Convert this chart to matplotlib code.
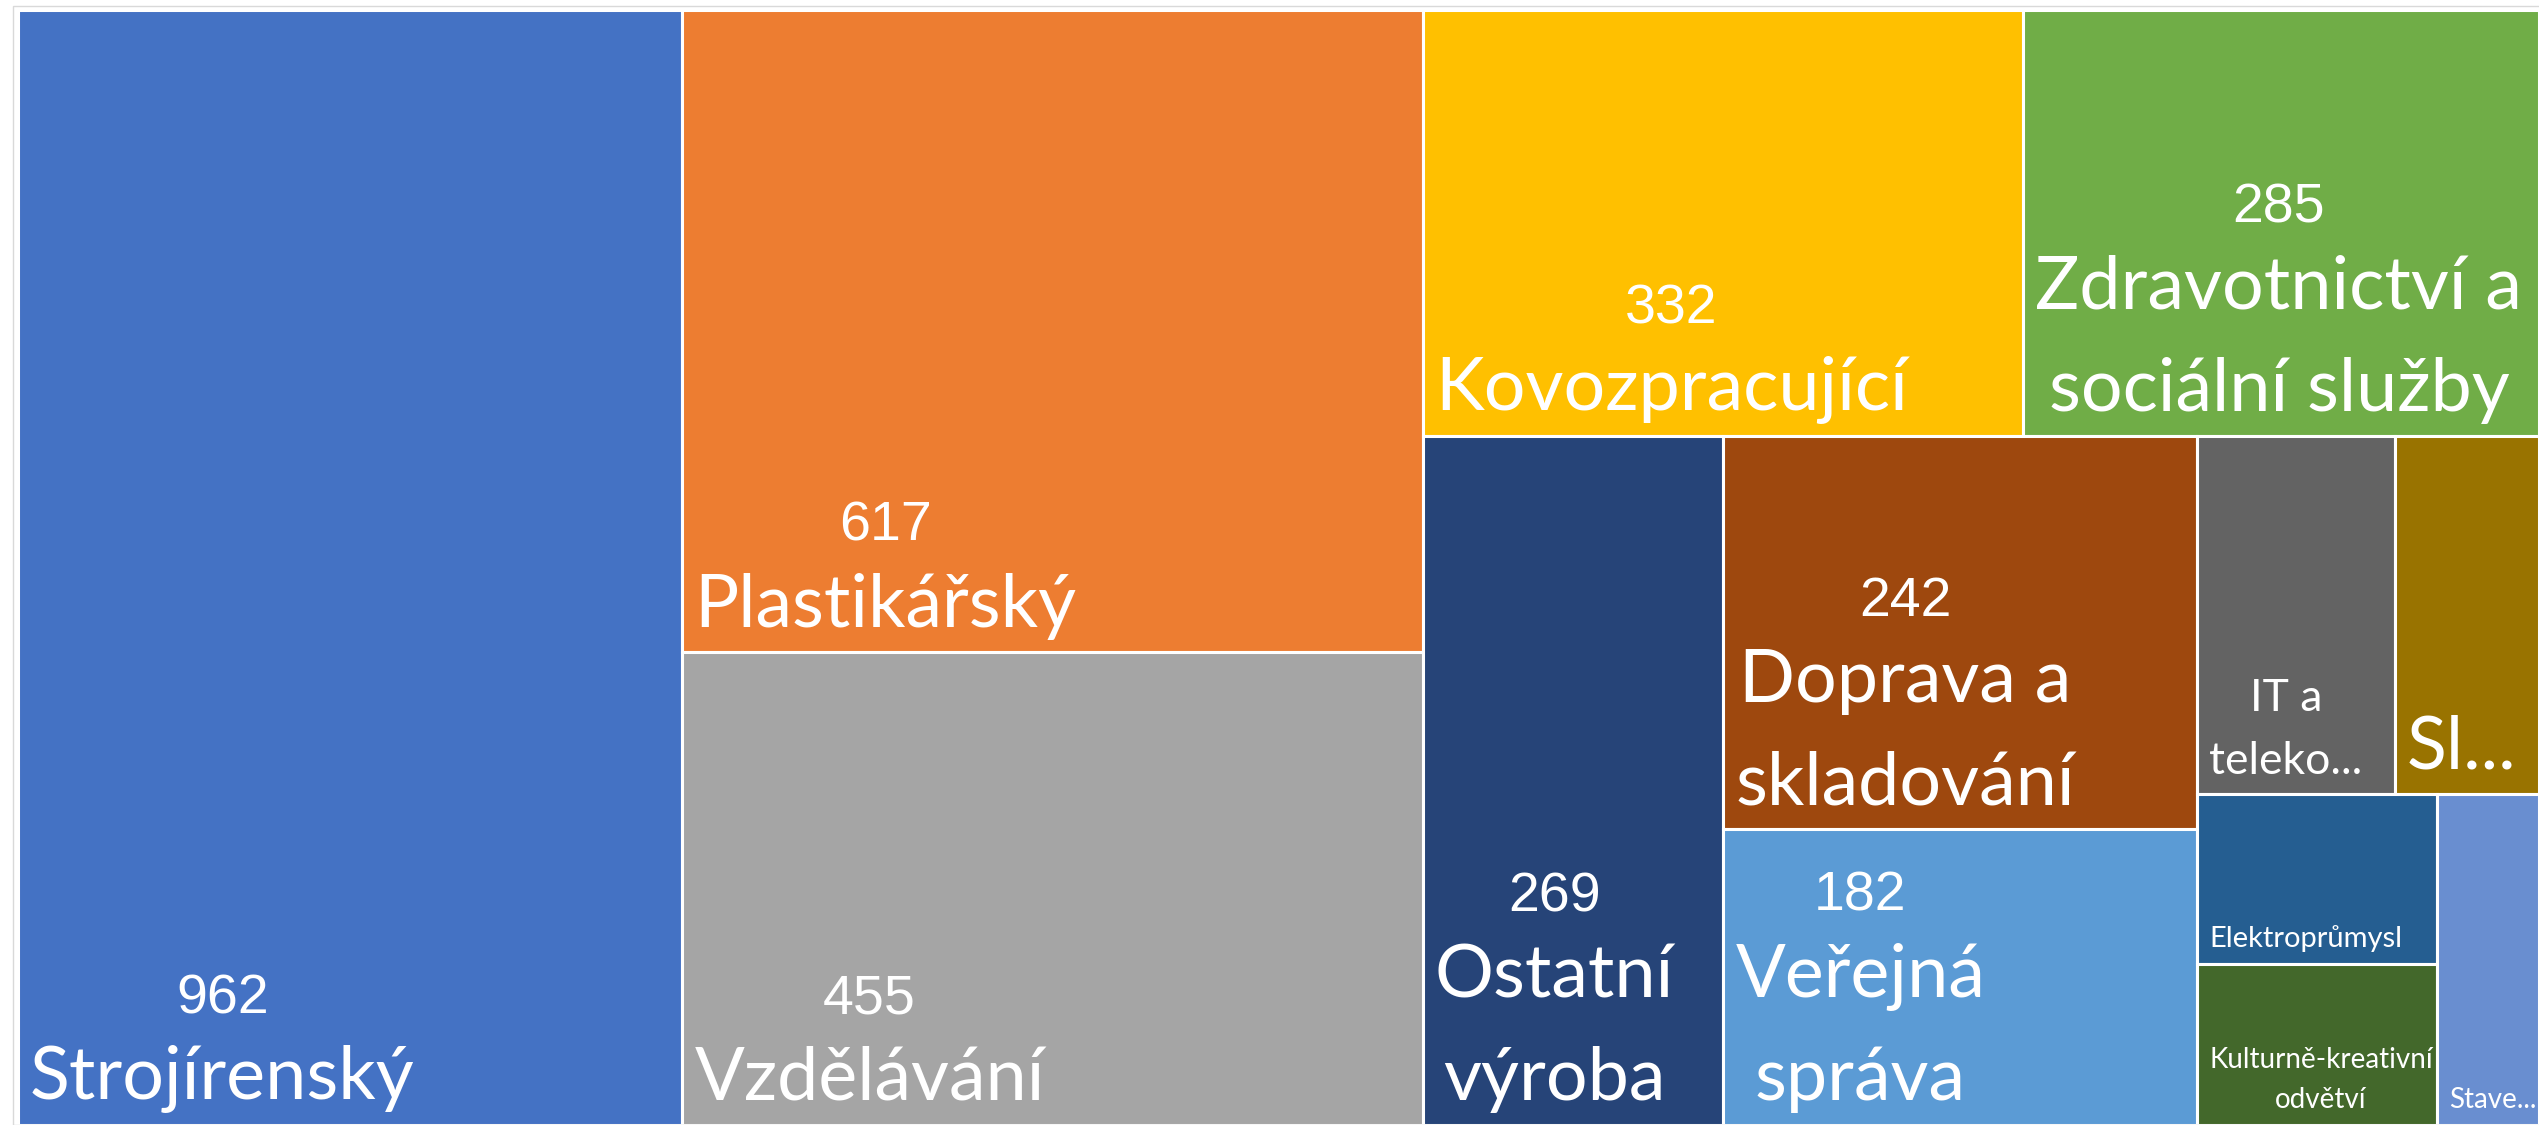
import matplotlib.pyplot as plt
from matplotlib.patches import Rectangle

# tiles, in drawing order
names = ["Strojírenský", "Plastikářský", "Vzdělávání", "Kovozpracující",
         "Zdravotnictví a\nsociální služby", "Ostatní\nvýroba", "Doprava a\nskladování",
         "Veřejná\nspráva", "IT a\nteleko...", "Sl...", "Elektroprůmysl",
         "Kulturně-kreativní\nodvětví", "Stave..."]
values = [962, 617, 455, 332, 285, 269, 242, 182, 92, 67, 53, 50, 44]
show_value = [True] * 8 + [False] * 5

colors = ["#4472C4", "#ED7D31", "#A5A5A5", "#FFC000", "#70AD47", "#264478", "#9E480E",
          "#5B9BD5", "#636363", "#997300", "#255E91", "#43682B", "#698ED0"]
name_sizes = [53] * 8 + [32, 53, 21, 20, 20]

# how Excel grouped the tiles into strips
strips = [[0], [1, 2], [3, 4], [5], [6, 7], [8, 9], [10, 11], [12]]
strip_dir = ["col", "col", "row", "col", "col", "row", "col", "col"]


def strip_layout(vals, x, y, w, h):
    scale = w * h / sum(vals)
    rects = {}
    for grp, d in zip(strips, strip_dir):
        area = sum(vals[i] for i in grp) * scale
        if d == "col":
            sw = area / h
            yy = y
            for i in grp:
                ih = vals[i] * scale / sw
                rects[i] = (x, yy, sw, ih)
                yy += ih
            x += sw
            w -= sw
        else:
            sh = area / w
            xx = x
            for i in grp:
                iw = vals[i] * scale / sh
                rects[i] = (xx, y, iw, sh)
                xx += iw
            y += sh
            h -= sh
    return rects


FW, FH = 2539, 1125
left, top = 18, 10
W, H = FW - left, FH - top

fig = plt.figure(figsize=(FW / 100, FH / 100), dpi=100)
fig.patches.append(Rectangle((13 / FW, 0), 1, 1 - 6 / FH, transform=fig.transFigure,
                             fill=False, edgecolor="#d9d9d9", linewidth=1))
ax = fig.add_axes([left / FW, 0, W / FW, H / FH])
ax.set_xlim(0, W)
ax.set_ylim(H, 0)
ax.axis("off")

rects = strip_layout(values, 0, 0, W, H)
renderer = fig.canvas.get_renderer()
inv = ax.transData.inverted()

for i, name in enumerate(names):
    x, y, w, h = rects[i]
    ax.add_patch(Rectangle((x, y), w, h, facecolor=colors[i], edgecolor="white", linewidth=2.2))
    t = ax.text(x + 12, y + h - 12, name, ha="left", va="bottom", multialignment="center",
                color="white", fontsize=name_sizes[i], family="Lato", linespacing=1.65)
    if show_value[i]:
        bb = t.get_window_extent(renderer)
        vx, vy = inv.transform(((bb.x0 + bb.x1) / 2, bb.y1 + 32))
        ax.text(vx, vy, str(values[i]), ha="center", va="baseline", color="white",
                fontsize=40, family="Liberation Sans")

fig.savefig("out.png", dpi=100, facecolor="white")
